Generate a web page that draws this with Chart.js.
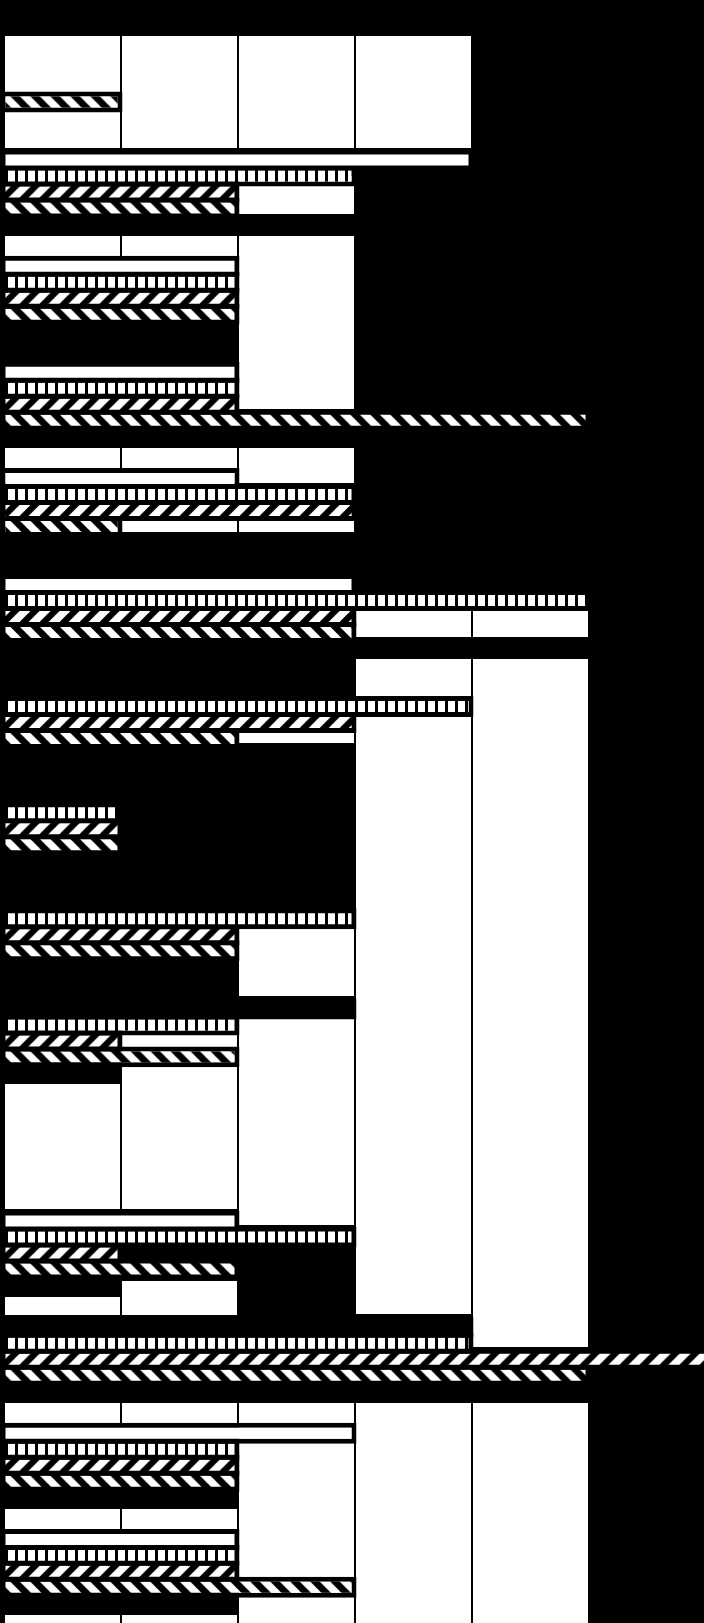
<!DOCTYPE html>
<html>
<head>
<meta charset="utf-8">
<style>
html,body{margin:0;padding:0;background:#000;width:704px;height:1623px;overflow:hidden}
canvas{display:block}
</style>
<script src="https://cdn.jsdelivr.net/npm/chart.js@4/dist/chart.umd.js"></script>
</head>
<body>
<canvas id="c" width="704" height="1623"></canvas>
<script>
const categories = [0,1,2,3,4,5,6,7,8,9,10,11,12,13,14];
const solidValues    = [0,4,2,2,2,3,0,0,0,3,0,2,4,3,2];
const stripeValues   = [0,3,2,2,3,5,4,1,3,2,0,3,4,2,2];
const forwardValues  = [0,2,2,2,3,3,3,1,2,1,0,1,6.2,2,2];
const backwardValues = [1,2,2,5,1,3,2,1,2,2,0,2,5,2,3];
// categories whose solid bar is filled dark instead of white
const darkSolid = [9,12];

// light background panels: category-axis span and value-axis span
const panelTop    = [-0.396,0.924,1.489,1.697,3.487,4.119,4.967,5.476,5.476,6.117,8.002,8.860,8.973,9.482,11.339,11.489,12.488,12.488,12.695,13.488,14.487];
const panelBottom = [0.660,1.282,1.697,3.120,3.817,4.279,5.269,11.649,11.961,6.268,8.652,10.811,10.660,10.660,11.659,11.659,12.695,14.562,14.562,13.686,14.562];
const panelFrom   = [0,2,0,2,0,0,3,3,4,2,2,2,1,0,1,0,0,3,2,0,0];
const panelTo     = [4,3,3,3,3,3,5,4,5,3,3,3,2,1,2,1,3,5,3,2,2];

const HALO = 5;
function tile(size, paint){
  const t = document.createElement('canvas');
  t.width = size; t.height = size;
  const g = t.getContext('2d');
  g.fillStyle = '#000'; g.fillRect(0,0,size,size);
  g.fillStyle = '#fff';
  paint(g);
  return t;
}
const stripeTile = tile(10, g => { g.fillRect(0,0,5,10); g.fillRect(8,0,2,10); });
const forwardTile = tile(20, g => {
  for (const o of [0,20,40]) {
    g.beginPath(); g.moveTo(o-0.5,0); g.lineTo(o+10.5,0); g.lineTo(o-9.5,20); g.lineTo(o-20.5,20); g.closePath(); g.fill();
  }
});
const backwardTile = tile(20, g => {
  for (const o of [-20,0,20]) {
    g.beginPath(); g.moveTo(o,0); g.lineTo(o+10.5,0); g.lineTo(o+30.5,20); g.lineTo(o+20,20); g.closePath(); g.fill();
  }
});
const canvas = document.getElementById('c');
const ctx2d = canvas.getContext('2d');
const CATEGORY_SHARE = 0.603;
const stripePattern = ctx2d.createPattern(stripeTile,'repeat');

function hatch(tileCanvas, slot){
  return ctx => {
    const yScale = ctx.chart.scales.y;
    const pattern = ctx2d.createPattern(tileCanvas,'repeat');
    if (yScale) {
      const groupPx = yScale.getPixelForValue(1) - yScale.getPixelForValue(0);
      const row = groupPx * CATEGORY_SHARE / 4;
      const top = yScale.getPixelForValue(ctx.dataIndex) + (slot - 1.5) * row - 5.5;
      pattern.setTransform(new DOMMatrix([1,0,0,1,0,top]));
    }
    return pattern;
  };
}
// a zero value draws no bar at all
function points(values){ return values.map((v,i)=>({x:v === 0 ? null : v,y:categories[i]})); }
function barSet(label, values, fill){
  return {
    type:'bar', label, data:points(values), xAxisID:'xBar', yAxisID:'y', order:1,
    backgroundColor:fill, borderColor:'#000', borderWidth:HALO, borderSkipped:false,
    base:-0.0428,
    categoryPercentage:CATEGORY_SHARE, barPercentage:1.3125
  };
}
const panels = panelTop.map((t,i)=>({
  type:'line', label:'panel'+i,
  data:[{x:panelTo[i],y:t},{x:panelTo[i],y:panelBottom[i]}],
  xAxisID:'x', yAxisID:'y', order:10,
  fill:{value:panelFrom[i]}, backgroundColor:'#fff', borderWidth:0, pointRadius:0, tension:0
}));

let gridRedrawn = false;
const gridOverPanels = {
  id:'gridOverPanels',
  beforeDatasetsDraw(){ gridRedrawn = false; },
  beforeDatasetDraw(chart,args){
    if (!gridRedrawn && args.meta.type === 'bar') {
      gridRedrawn = true;
      chart.scales.x.drawGrid(chart.chartArea);
    }
  }
};

new Chart(canvas,{
  type:'bar',
  data:{
    labels:categories.map(String),
    datasets:[
      ...panels,
      barSet('Solid', solidValues, ctx => darkSolid.includes(ctx.dataIndex) ? '#000' : '#fff'),
      barSet('Stripes', stripeValues, stripePattern),
      barSet('Forward', forwardValues, hatch(forwardTile,2)),
      barSet('Backward', backwardValues, hatch(backwardTile,3))
    ]
  },
  plugins:[gridOverPanels],
  options:{
    indexAxis:'y',
    responsive:false,
    animation:false,
    devicePixelRatio:1,
    layout:{padding:{left:4,right:0,top:24.95,bottom:0}},
    plugins:{legend:{display:false},tooltip:{enabled:false},title:{display:false}},
    scales:{
      x:{type:'linear',axis:'x',position:'top',min:0,max:5.988,
         ticks:{display:false,stepSize:1,includeBounds:false},
         border:{display:false},
         grid:{color:'#000',lineWidth:2,drawTicks:false,offset:false}},
      xBar:{type:'linear',axis:'x',position:'top',min:-0.0128,max:5.97,display:false},
      y:{type:'linear',axis:'y',reverse:true,min:-0.5,max:14.562,offset:false,display:false,
         ticks:{stepSize:1,includeBounds:false},grid:{display:false,offset:false}}
    }
  }
});
</script>
</body>
</html>
